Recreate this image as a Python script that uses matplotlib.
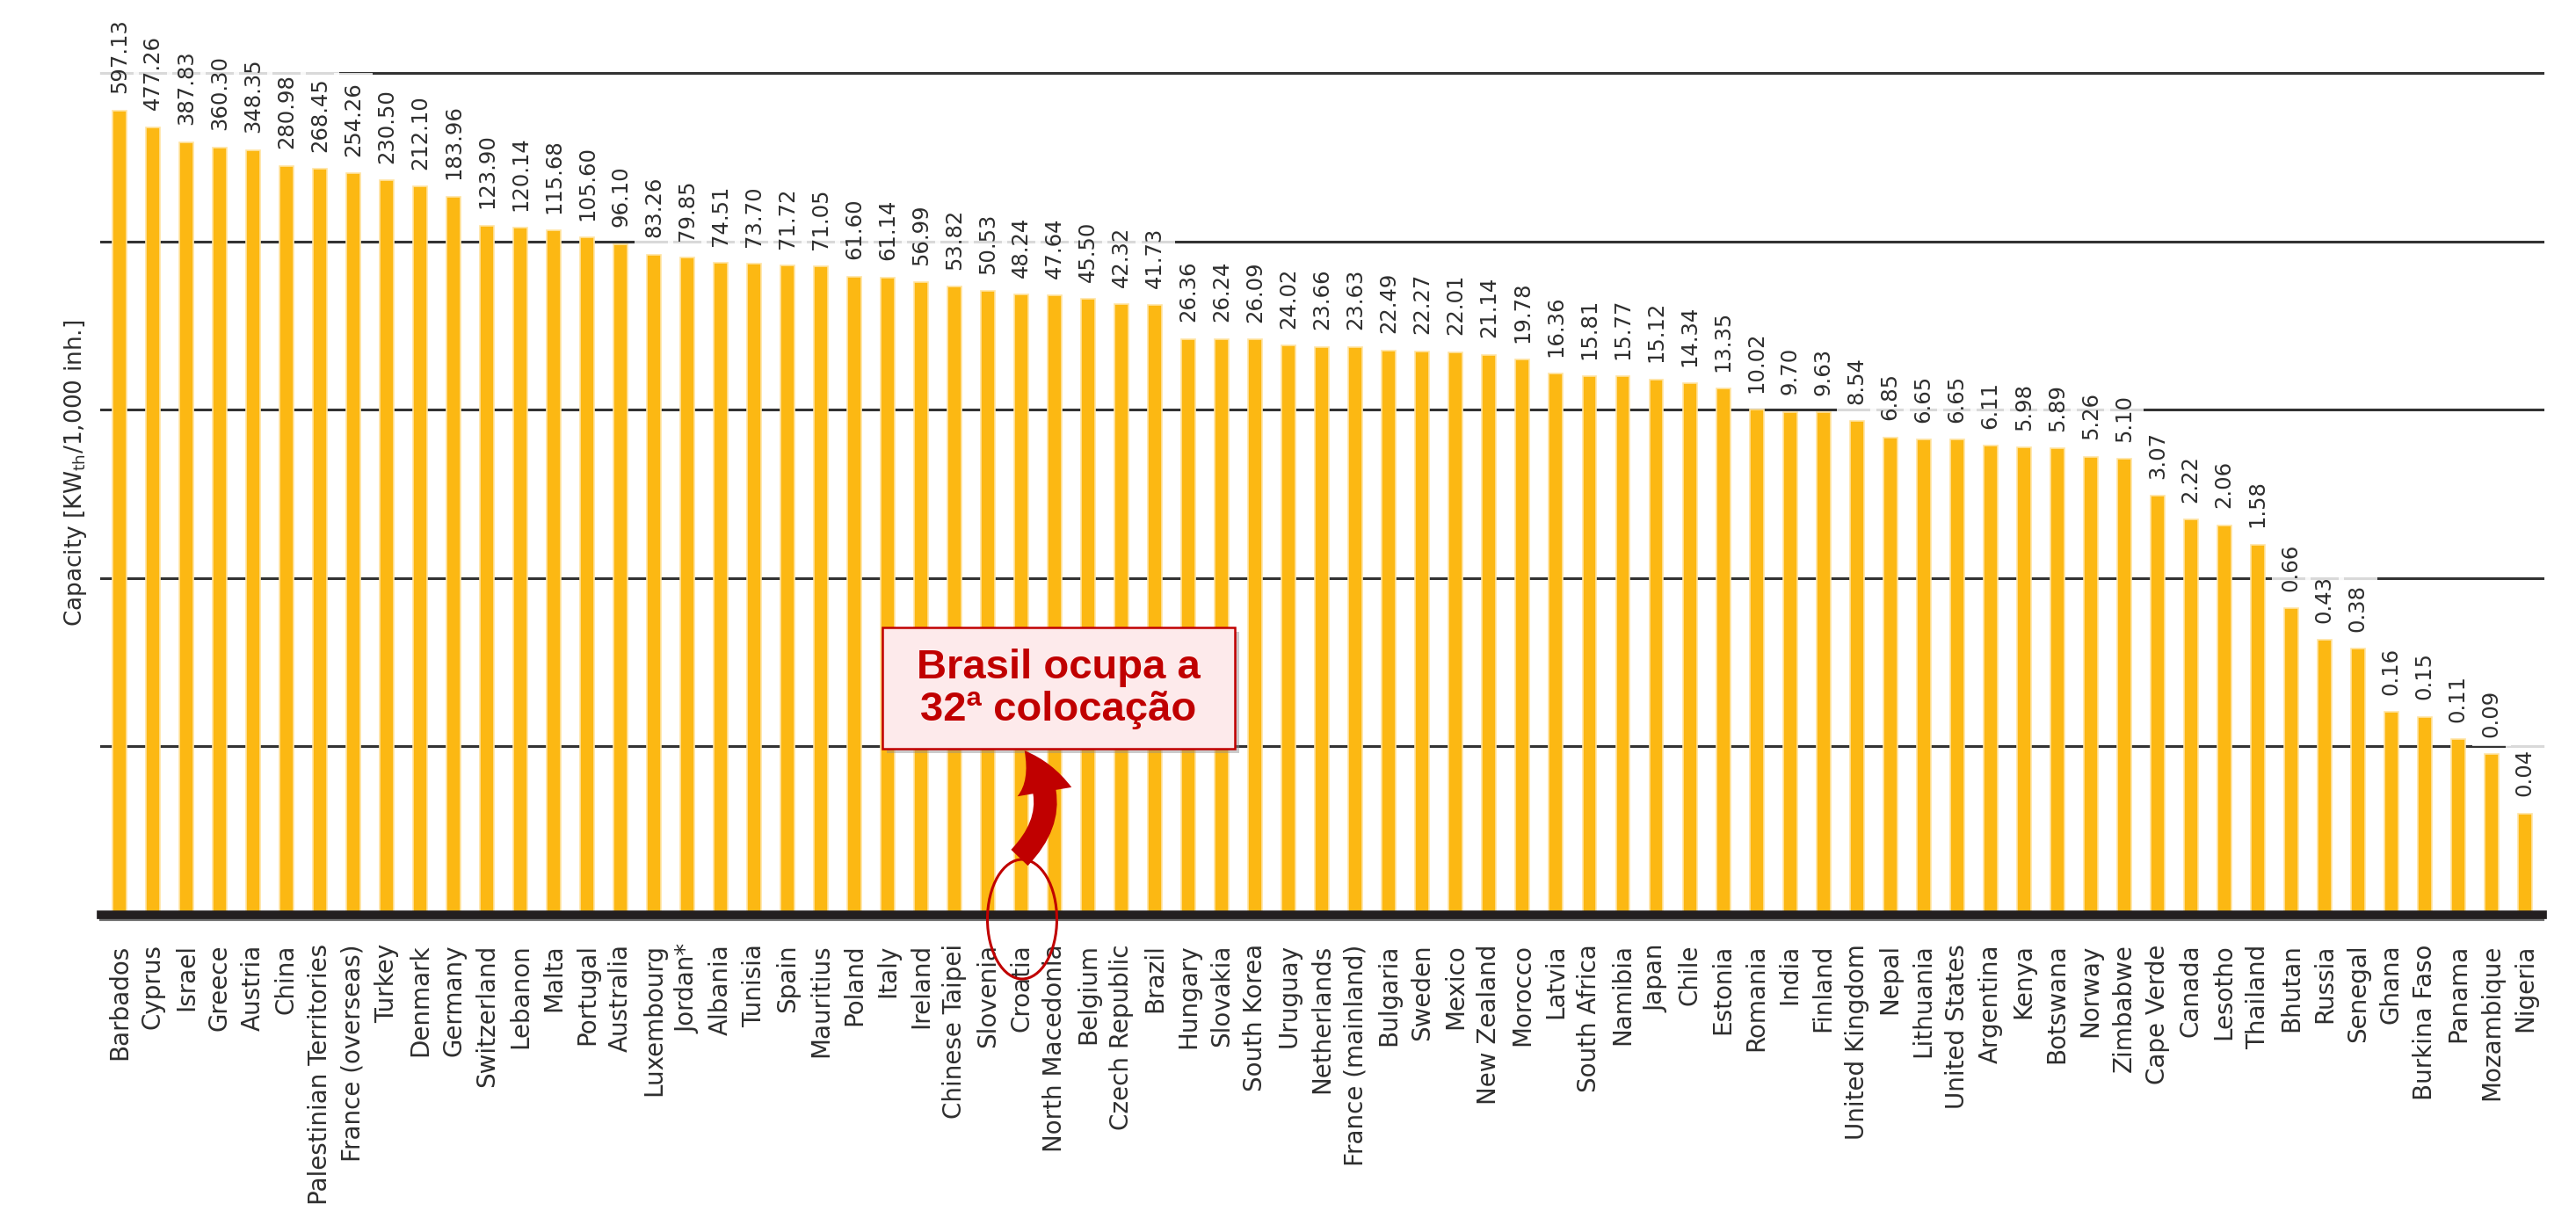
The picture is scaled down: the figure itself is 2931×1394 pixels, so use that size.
import matplotlib
matplotlib.use("Agg")
import matplotlib.pyplot as plt
import matplotlib.transforms as mtransforms
from matplotlib.patches import Rectangle, Ellipse, FancyArrowPatch
from matplotlib.ticker import NullLocator

# solar thermal capacity per 1,000 inhabitants, sorted high -> low
countries = [
    "Barbados", "Cyprus", "Israel", "Greece", "Austria", "China",
    "Palestinian Territories", "France (overseas)", "Turkey", "Denmark",
    "Germany", "Switzerland", "Lebanon", "Malta", "Portugal", "Australia",
    "Luxembourg", "Jordan*", "Albania", "Tunisia", "Spain", "Mauritius",
    "Poland", "Italy", "Ireland", "Chinese Taipei", "Slovenia", "Croatia",
    "North Macedonia", "Belgium", "Czech Republic", "Brazil", "Hungary",
    "Slovakia", "South Korea", "Uruguay", "Netherlands", "France (mainland)",
    "Bulgaria", "Sweden", "Mexico", "New Zealand", "Morocco", "Latvia",
    "South Africa", "Namibia", "Japan", "Chile", "Estonia", "Romania",
    "India", "Finland", "United Kingdom", "Nepal", "Lithuania",
    "United States", "Argentina", "Kenya", "Botswana", "Norway", "Zimbabwe",
    "Cape Verde", "Canada", "Lesotho", "Thailand", "Bhutan", "Russia",
    "Senegal", "Ghana", "Burkina Faso", "Panama", "Mozambique", "Nigeria",
]
capacity = [
    597.13, 477.26, 387.83, 360.30, 348.35, 280.98,
    268.45, 254.26, 230.50, 212.10,
    183.96, 123.90, 120.14, 115.68, 105.60, 96.10,
    83.26, 79.85, 74.51, 73.70, 71.72, 71.05,
    61.60, 61.14, 56.99, 53.82, 50.53, 48.24,
    47.64, 45.50, 42.32, 41.73, 26.36,
    26.24, 26.09, 24.02, 23.66, 23.63,
    22.49, 22.27, 22.01, 21.14, 19.78, 16.36,
    15.81, 15.77, 15.12, 14.34, 13.35, 10.02,
    9.70, 9.63, 8.54, 6.85, 6.65,
    6.65, 6.11, 5.98, 5.89, 5.26, 5.10,
    3.07, 2.22, 2.06, 1.58, 0.66, 0.43,
    0.38, 0.16, 0.15, 0.11, 0.09, 0.04,
]
decades = [0.1, 1, 10, 100, 1000]

W, H, DPI = 2931, 1394, 100
BAR = "#FCB813"
FRINGE = "#FFE4A3"
GRID = "#333333"
TEXT = "#2e2e2e"
RED = "#C00000"

plt.rcParams.update({"font.family": "DejaVu Sans", "mathtext.default": "regular"})

fig = plt.figure(figsize=(W / DPI, H / DPI), dpi=DPI)
fig.patch.set_facecolor("white")
ax = fig.add_axes([115 / W, 1 - 1041 / H, (2893 - 115) / W, (1041 - 83) / H])

x = list(range(len(countries)))
ax.set_yscale("log")
ax.set_ylim(0.01, 1000)
ax.set_xlim(-0.55, len(countries) - 1 + 0.53)

for d in decades:
    ax.axhline(d, color=GRID, lw=2.2, zorder=1, clip_on=False)

ax.bar(x, capacity, width=0.42, color=BAR, edgecolor=FRINGE, linewidth=1.2, zorder=2)

# value labels; their white boxes wash out the gridlines behind them
for xi, v in zip(x, capacity):
    ax.annotate(f"{v:.2f}", (xi, v), xytext=(0, 14), textcoords="offset points",
                rotation=90, ha="center", va="bottom", fontsize=17.5, color=TEXT,
                zorder=3, annotation_clip=False,
                bbox=dict(boxstyle="square,pad=0.42", fc="white", ec="none", alpha=0.82))

ax.set_xticks(x)
ax.set_xticklabels(countries, rotation=90, fontsize=20, color=TEXT)
ax.tick_params(axis="x", length=0, pad=24)
ax.yaxis.set_minor_locator(NullLocator())
ax.tick_params(axis="y", which="both", left=False, labelleft=False)

for s in ("top", "right", "left"):
    ax.spines[s].set_visible(False)
ax.spines["bottom"].set_linewidth(7)
ax.spines["bottom"].set_color("#231f20")
ax.spines["bottom"].set_zorder(4)
under = mtransforms.offset_copy(ax.transAxes, fig=fig, y=-5, units="dots")
ax.plot([0, 1], [0, 0], transform=under, color="#707070", lw=3, clip_on=False, zorder=3.9)

ax.set_ylabel("Capacity [KW$_{th}$/1,000 inh.]", fontsize=19, color=TEXT)
ax.yaxis.set_label_coords(-0.005, 0.525)


# ---- callout: box, curved arrow, circle (placed in figure pixels) ----
def fxy(px, py):
    return (px / W, 1 - py / H)


fig.add_artist(Rectangle(fxy(1009, 857), 401 / W, 138 / H, transform=fig.transFigure,
                         fc="#8c8c8c", ec="none", alpha=0.45, zorder=9))
fig.add_artist(Rectangle(fxy(1004, 852), 401 / W, 138 / H, transform=fig.transFigure,
                         fc="#FDEAEB", ec=RED, lw=1.8, zorder=10))
fig.text(1204.5 / W, 1 - 784 / H, "Brasil ocupa a\n32ª colocação", ha="center",
         va="center", fontsize=34, fontweight="bold", color=RED,
         family="Liberation Sans", linespacing=1.12, zorder=11)

fig.add_artist(FancyArrowPatch(fxy(1158, 978), fxy(1164, 852), transform=fig.transFigure,
                               connectionstyle="arc3,rad=0.45",
                               arrowstyle="simple,head_length=0.75,head_width=0.9,tail_width=0.38",
                               mutation_scale=50, color=RED, lw=0, zorder=10))
fig.add_artist(Ellipse(fxy(1163, 1046), 79 / W, 136 / H, transform=fig.transFigure,
                       fill=False, ec=RED, lw=2.2, zorder=10))

fig.savefig("out.png", dpi=DPI, facecolor="white")
